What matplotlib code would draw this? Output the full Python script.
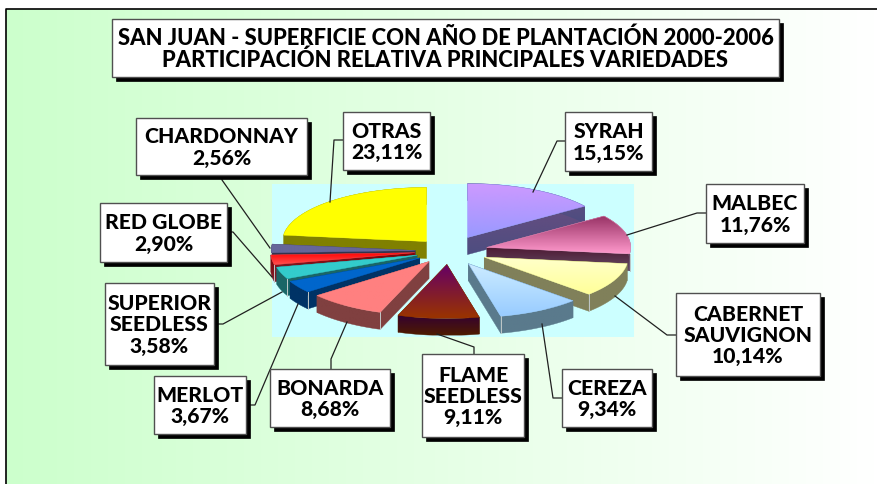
import numpy as np
import matplotlib
matplotlib.use('Agg')
import matplotlib.pyplot as plt
from matplotlib.patches import Polygon, Rectangle

# clockwise from twelve o'clock
varieties = ['SYRAH', 'MALBEC', 'CABERNET\nSAUVIGNON', 'CEREZA', 'FLAME\nSEEDLESS', 'BONARDA',
             'MERLOT', 'SUPERIOR\nSEEDLESS', 'RED GLOBE', 'CHARDONNAY', 'OTRAS']
shares = [15.15, 11.76, 10.14, 9.34, 9.11, 8.68, 3.67, 3.58, 2.90, 2.56, 23.11]
labels = ['15,15%', '11,76%', '10,14%', '9,34%', '9,11%', '8,68%', '3,67%', '3,58%', '2,90%', '2,56%', '23,11%']
explode = [0.28, 0.27, 0.27, 0.27, 0.25, 0.24, 0.24, 0.235, 0.24, 0.235, 0.235]

title = 'SAN JUAN - SUPERFICIE CON AÑO DE PLANTACIÓN 2000-2006\nPARTICIPACIÓN RELATIVA PRINCIPALES VARIEDADES'

# gradient ends, top of the slice to bottom
top_colors = [('#cc99ff', '#9999ff'), ('#993366', '#ff99cc'), ('#ffffcc', '#ffff99'), ('#ccecff', '#99ccff'),
              ('#660066', '#993300'), ('#ff8080', '#ff8080'), ('#0066cc', '#0066cc'), ('#33cccc', '#33cccc'),
              ('#ff0000', '#ff5050'), ('#666699', '#666699'), ('#ffff00', '#ffff00')]
side_colors = [('#664d80', '#4d4d80'), ('#4d1a33', '#664d66'), ('#80805a', '#80805a'), ('#5a7a8c', '#5a7a8c'),
               ('#330033', '#4d1a00'), ('#804040', '#804040'), ('#003366', '#003366'), ('#1a6666', '#1a6666'),
               ('#800000', '#802030'), ('#33334d', '#33334d'), ('#808000', '#808000')]

# x0, y0, x1, y1 in pixels
boxes = [(565, 113, 652, 172), (706, 185, 804, 244), (676, 294, 820, 377), (562, 370, 652, 428),
         (422, 355, 524, 438), (270, 370, 390, 428), (154, 377, 246, 435), (105, 284, 214, 366),
         (100, 204, 227, 263), (136, 119, 307, 176), (343, 113, 430, 171)]
leaders = [[(565, 142), (557, 142), (533, 193)], [(706, 214), (697, 214), (627, 236)],
           [(676, 336), (667, 336), (615, 297)], [(562, 399), (553, 399), (542, 325)],
           [(474, 355), (474, 348), (437, 335)], [(331, 370), (331, 360), (347, 323)],
           [(246, 406), (255, 406), (298, 305)], [(214, 325), (223, 325), (282, 293)],
           [(227, 233), (233, 233), (272, 278)], [(222, 176), (222, 181), (270, 249)],
           [(343, 141), (334, 141), (330, 203)]]

CX, CY = 449, 252
RX, RY = 144, 54
DEPTH = 17
FONT = 'Lato'

fig = plt.figure(figsize=(8.77, 4.85), dpi=100, facecolor='white')
ax = fig.add_axes([0, 0, 1, 1])
ax.set_xlim(0, 877)
ax.set_ylim(485, 0)
ax.axis('off')


def rgb(c):
    return np.array(matplotlib.colors.to_rgb(c))


def gradient_fill(points, colors, z):
    pts = np.array(points)
    # a cut lying straight up and down shows nothing
    if np.ptp(pts[:, 0]) < 1:
        return
    patch = Polygon(pts, closed=True, facecolor='none', edgecolor='none', zorder=z)
    ax.add_patch(patch)
    t = np.linspace(0, 1, 64)[:, None, None]
    img = (1 - t) * rgb(colors[0]) + t * rgb(colors[1])
    im = ax.imshow(img, extent=(pts[:, 0].min(), pts[:, 0].max(), pts[:, 1].max(), pts[:, 1].min()),
                   aspect='auto', zorder=z, interpolation='bilinear')
    im.set_clip_path(patch)
    # keep the edge from looking too rough
    ax.add_patch(Polygon(pts, closed=True, facecolor='none', edgecolor=colors[1], lw=0.3, zorder=z))


# background
t = np.linspace(0, 1, 256)[None, :, None]
bg = (1 - t) * rgb('#ccffcc') + t * rgb('#ffffff')
ax.imshow(bg, extent=(6, 877, 485, 10), aspect='auto', zorder=0)
ax.plot([6, 6, 877], [485, 10, 10], color='black', lw=1.2, zorder=1)

# plot area
ax.add_patch(Rectangle((272, 185), 362, 153, facecolor='#ccffff', edgecolor='none', zorder=2))

# slices
ends = np.cumsum(shares) * 3.6
starts = ends - np.array(shares) * 3.6
mids = (starts + ends) / 2
order = np.argsort(-np.cos(np.radians(mids)))

z = 3
for i in order:
    m = np.radians(mids[i])
    ax_x = CX + explode[i] * RX * np.sin(m)
    ax_y = CY - explode[i] * RY * np.cos(m)
    ang = np.radians(np.linspace(starts[i], ends[i], 60))
    arc_x = ax_x + RX * np.sin(ang)
    arc_y = ax_y - RY * np.cos(ang)
    arc = list(zip(arc_x, arc_y))
    low = [(x, y + DEPTH) for x, y in arc]

    cut_a = [(ax_x, ax_y), arc[0], low[0], (ax_x, ax_y + DEPTH)]
    cut_b = [(ax_x, ax_y), arc[-1], low[-1], (ax_x, ax_y + DEPTH)]
    gradient_fill(cut_a, side_colors[i], z)
    gradient_fill(cut_b, side_colors[i], z + 1)
    gradient_fill(arc + low[::-1], side_colors[i], z + 2)

    # pale line where a cut face meets the rim
    if 90 <= ends[i] < 180:
        ax.plot([arc[-1][0]] * 2, [arc[-1][1], low[-1][1]], color='#c0c8c8', lw=0.7, zorder=z + 2)
    if 180 < starts[i] <= 270:
        ax.plot([arc[0][0]] * 2, [arc[0][1], low[0][1]], color='#c0c8c8', lw=0.7, zorder=z + 2)

    gradient_fill([(ax_x, ax_y)] + arc, top_colors[i], z + 3)
    z += 4

# leader lines then label boxes
for line in leaders:
    xs, ys = zip(*line)
    ax.plot(xs, ys, color='#202020', lw=0.9, zorder=z)
z += 1


def box(x0, y0, x1, y1, text, size, spacing):
    ax.add_patch(Rectangle((x0 + 4, y0 + 4), x1 - x0, y1 - y0, facecolor='black', edgecolor='black', lw=0.5, zorder=z))
    ax.add_patch(Rectangle((x0, y0), x1 - x0, y1 - y0, facecolor='white', edgecolor='#505050', lw=1.0, zorder=z + 1))
    ax.text((x0 + x1) / 2, (y0 + y1) / 2, text, ha='center', va='center', multialignment='center', color='black',
            family=FONT, weight='black', fontsize=size, linespacing=spacing, zorder=z + 2)


for name, label, b in zip(varieties, labels, boxes):
    box(*b, name + '\n' + label, 15.2, 1.15)
box(112, 20, 779, 78, title, 15.8, 1.03)

fig.savefig('out.png', dpi=100, facecolor='white')
